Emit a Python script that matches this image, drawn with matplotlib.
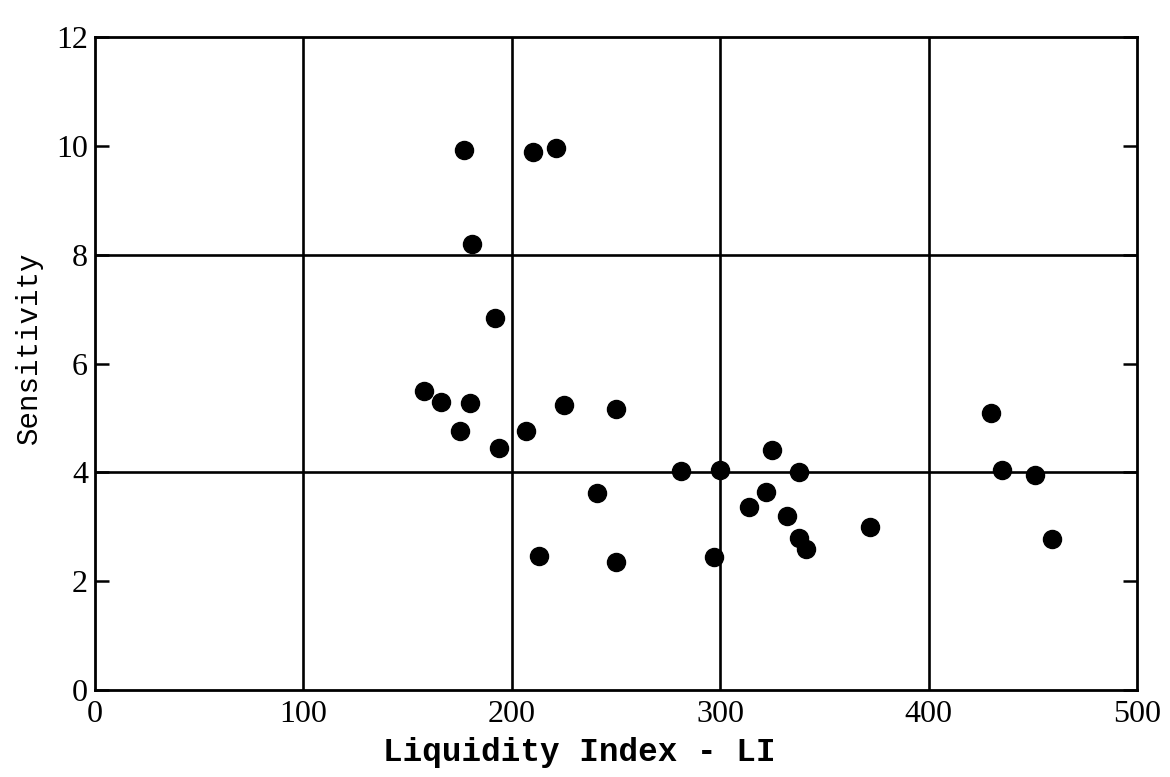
import matplotlib
matplotlib.use("Agg")
import matplotlib.pyplot as plt

# data
liquidity_index = [177, 210, 221, 181, 192, 158, 166, 180, 175, 194, 207, 225, 250,
                   241, 213, 250, 281, 300, 297, 325, 314, 322, 332, 338, 338, 341,
                   372, 430, 435, 451, 459]
sensitivity = [9.93, 9.89, 9.97, 8.2, 6.83, 5.5, 5.29, 5.27, 4.76, 4.45, 4.77, 5.24, 5.17,
               3.63, 2.47, 2.36, 4.03, 4.04, 2.45, 4.42, 3.36, 3.64, 3.2, 4.0, 2.8, 2.6,
               3.0, 5.1, 4.04, 3.96, 2.78]

x_ticks = [0, 100, 200, 300, 400, 500]
y_ticks = [0, 2, 4, 6, 8, 10, 12]
y_grid = [4, 8]

fig = plt.figure(figsize=(11.7, 7.77), dpi=100)
ax = fig.add_axes([0.0812, 0.112, 0.8906, 0.840])

# grid lines
for gx in x_ticks[1:-1]:
    ax.axvline(gx, color="black", lw=1.9, zorder=1)
for gy in y_grid:
    ax.axhline(gy, color="black", lw=1.9, zorder=1)

ax.plot(liquidity_index, sensitivity, "o", color="black", markersize=13, zorder=3)

ax.set_xlim(0, 500)
ax.set_ylim(0, 12)
ax.set_xticks(x_ticks)
ax.set_yticks(y_ticks)

for s in ax.spines.values():
    s.set_linewidth(2.0)

ax.tick_params(axis="y", direction="in", length=10, width=1.8, left=True, right=True,
               labelsize=23, pad=5)
ax.tick_params(axis="x", direction="in", length=0, labelsize=23, pad=7)
for lab in ax.get_xticklabels() + ax.get_yticklabels():
    lab.set_family("Liberation Serif")

ax.set_xlabel("Liquidity Index - LI", family="Liberation Mono", fontsize=23.5,
              fontweight="bold", labelpad=10)
ax.xaxis.set_label_coords(0.465, -0.072)
ax.set_ylabel("Sensitivity", family="Liberation Mono", fontsize=21, labelpad=12)
ax.yaxis.set_label_coords(-0.05, 0.525)

fig.savefig("out.png", dpi=100)
